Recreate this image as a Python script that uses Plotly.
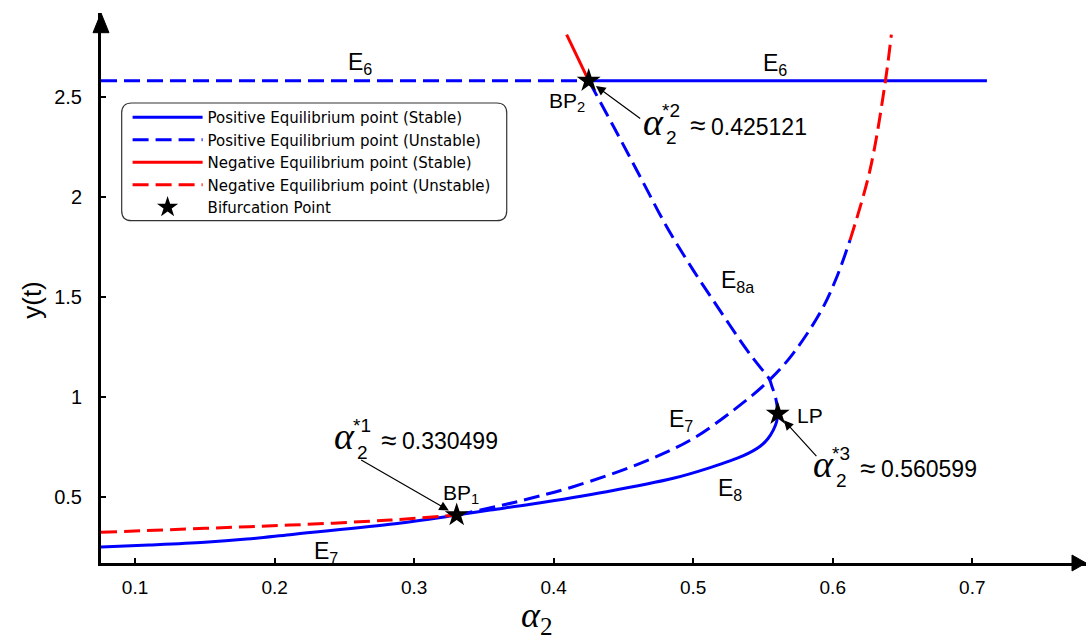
import plotly.graph_objects as go

# ---------------- data ----------------
e6_unstable_x = [0.0756, 0.4251]
e6_unstable_y = [2.58, 2.58]
e6_stable_x = [0.4251, 0.7105]
e6_stable_y = [2.58, 2.58]

neg_unstable_low_x = [0.0756, 0.15, 0.211, 0.2827, 0.3305]
neg_unstable_low_y = [0.322, 0.342, 0.358, 0.383, 0.408]

pos_stable_x = [0.0756, 0.11, 0.15, 0.18, 0.211, 0.2827, 0.3305, 0.3545, 0.3835, 0.438, 0.4857,
                0.511, 0.536, 0.548, 0.5535, 0.5574, 0.5598, 0.5606]
pos_stable_y = [0.248, 0.258, 0.272, 0.288, 0.31, 0.362, 0.408, 0.433, 0.462, 0.525, 0.592,
                0.643, 0.705, 0.752, 0.79, 0.833, 0.875, 0.915]

e7_unstable_x = [0.3305, 0.366, 0.3835, 0.414, 0.462, 0.498, 0.529, 0.5546, 0.5717, 0.592, 0.603, 0.6124]
e7_unstable_y = [0.408, 0.462, 0.492, 0.55, 0.667, 0.783, 0.933, 1.083, 1.217, 1.433, 1.60, 1.783]

neg_unstable_high_x = [0.6124, 0.6267, 0.6375, 0.642]
neg_unstable_high_y = [1.783, 2.133, 2.567, 2.81]

e8a_unstable_x = [0.5606, 0.5600, 0.5585, 0.5565, 0.5546, 0.5465, 0.5383, 0.519, 0.500, 0.481, 0.462, 0.443, 0.4251]
e8a_unstable_y = [0.915, 0.96, 1.01, 1.05, 1.087, 1.16, 1.235, 1.433, 1.633, 1.85, 2.1, 2.35, 2.58]

neg_stable_x = [0.4251, 0.4093]
neg_stable_y = [2.58, 2.81]

bif_x = [0.3305, 0.4251, 0.5606]
bif_y = [0.408, 2.58, 0.915]
bif_labels = ["0.330499", "0.425121", "0.560599"]
bif_sup = ["*1", "*2", "*3"]

x_ticks = [0.1, 0.2, 0.3, 0.4, 0.5, 0.6, 0.7]
y_ticks = [0.5, 1, 1.5, 2, 2.5]
y_ticktext = ["0.5", "1", "1.5", "2", "2.5"]

X_RANGE = [0.0756, 0.7815]
Y_RANGE = [0.1685, 2.9185]

BLUE = "#0000FF"
RED = "#FF0000"
DASH = "16px,7px"
FONT = "Liberation Sans, Arial, sans-serif"
SERIF = "Liberation Serif, DejaVu Serif, serif"

fig = go.Figure()


def seg(x, y, color, dash, name, group, show):
    fig.add_trace(go.Scatter(
        x=x, y=y, mode="lines", name=name, legendgroup=group, showlegend=show,
        line=dict(color=color, width=3, dash=dash, shape="spline", smoothing=1.0),
        hoverinfo="skip"))


# legend order: pos stable, pos unstable, neg stable, neg unstable, star
seg(pos_stable_x, pos_stable_y, BLUE, "solid", "Positive Equilibrium point (Stable)", "ps", True)
seg(e6_stable_x, e6_stable_y, BLUE, "solid", "Positive Equilibrium point (Stable)", "ps", False)
seg(e6_unstable_x, e6_unstable_y, BLUE, DASH, "Positive Equilibrium point (Unstable)", "pu", True)
seg(e7_unstable_x, e7_unstable_y, BLUE, DASH, "Positive Equilibrium point (Unstable)", "pu", False)
seg(e8a_unstable_x, e8a_unstable_y, BLUE, DASH, "Positive Equilibrium point (Unstable)", "pu", False)
seg(neg_stable_x, neg_stable_y, RED, "solid", "Negative Equilibrium point (Stable)", "ns", True)
seg(neg_unstable_low_x, neg_unstable_low_y, RED, DASH, "Negative Equilibrium point (Unstable)", "nu", True)
seg(neg_unstable_high_x, neg_unstable_high_y, RED, DASH, "Negative Equilibrium point (Unstable)", "nu", False)

fig.add_trace(go.Scatter(
    x=bif_x, y=bif_y, mode="markers", name="Bifurcation Point",
    marker=dict(symbol="star", size=18, color="black"), hoverinfo="skip"))

ann = []


def label(x, y, text, size=23):
    ann.append(dict(x=x, y=y, xref="x", yref="y", text=text, showarrow=False,
                    font=dict(family=FONT, size=size, color="black"),
                    xanchor="center", yanchor="middle"))


label(0.2612, 2.6685, "E<sub>6</sub>")
label(0.5586, 2.6635, "E<sub>6</sub>")
label(0.4095, 2.4735, "BP<sub>2</sub>", 21)
label(0.5321, 1.5785, "E<sub>8a</sub>")
label(0.4912, 0.8835, "E<sub>7</sub>")
label(0.5263, 0.5385, "E<sub>8</sub>")
label(0.5837, 0.9085, "LP", 21)
label(0.3336, 0.5135, "BP<sub>1</sub>", 21)
label(0.2368, 0.2235, "E<sub>7</sub>")

# alpha labels: anchor = centre of the alpha glyph (data coords)
alpha_pos = [(0.2504, 0.7835), (0.4719, 2.355), (0.5937, 0.6435)]
arrow_tail = [(-97, -56), (53, 39), (40, 44)]  # pixel offsets of tail from star (ax, ay; +ay = down)
for (ax_, ay_), sup, num, bx, by, (tx, ty) in zip(alpha_pos, bif_sup, bif_labels, bif_x, bif_y, arrow_tail):
    ann.append(dict(x=ax_, y=ay_, text="<i>α</i>", showarrow=False, xanchor="center", yanchor="middle",
                    yshift=4, font=dict(family=SERIF, size=38, color="black")))
    ann.append(dict(x=ax_, y=ay_, text=sup, showarrow=False, xanchor="center", yanchor="middle",
                    xshift=17, yshift=15, font=dict(family=FONT, size=19, color="black")))
    ann.append(dict(x=ax_, y=ay_, text="2", showarrow=False, xanchor="center", yanchor="middle",
                    xshift=18, yshift=-12, font=dict(family=FONT, size=19, color="black")))
    ann.append(dict(x=ax_, y=ay_, text="≈", showarrow=False, xanchor="center", yanchor="middle",
                    xshift=44, yshift=0, font=dict(family=FONT, size=28, color="black")))
    ann.append(dict(x=ax_, y=ay_, text=num, showarrow=False, xanchor="left", yanchor="middle",
                    xshift=55, yshift=-1, font=dict(family=FONT, size=23, color="black")))
    ann.append(dict(x=bx, y=by, ax=tx, ay=ty, text="", showarrow=True, arrowhead=2,
                    arrowsize=1.6, arrowwidth=1.2, arrowcolor="black", standoff=9))

# axis titles
ann.append(dict(x=-0.070, y=0.4787, xref="paper", yref="paper", text="y(t)", showarrow=False,
                textangle=-90, font=dict(family=FONT, size=26, color="black"),
                xanchor="center", yanchor="middle"))
ann.append(dict(x=0.4426, y=-0.0995, xref="paper", yref="paper", text="<i>α</i><sub>2</sub>",
                showarrow=False, font=dict(family=SERIF, size=36, color="black"),
                xanchor="center", yanchor="middle"))


# shapes: axis arrowheads and rounded legend box
def rounded_rect(x0, y0, x1, y1, rx, ry):
    return (f"M {x0+rx},{y1} L {x1-rx},{y1} Q {x1},{y1} {x1},{y1-ry} "
            f"L {x1},{y0+ry} Q {x1},{y0} {x1-rx},{y0} L {x0+rx},{y0} "
            f"Q {x0},{y0} {x0},{y0+ry} L {x0},{y1-ry} Q {x0},{y1} {x0+rx},{y1} Z")


shapes = [
    dict(type="path", xref="paper", yref="paper", path="M 1.0,0 L 0.9858,0.0145 L 0.9858,-0.0145 Z",
         fillcolor="black", line=dict(color="black", width=1)),
    dict(type="path", xref="paper", yref="paper", path="M 0,1.0 L 0.0081,0.9642 L -0.0081,0.9642 Z",
         fillcolor="black", line=dict(color="black", width=1)),
    dict(type="path", xref="paper", yref="paper",
         path=rounded_rect(0.021, 0.6224, 0.4119, 0.8364, 0.0102, 0.0182),
         line=dict(color="#333333", width=1.2)),
]

fig.update_layout(
    width=1086, height=639,
    margin=dict(l=101, r=0, t=13, b=76),
    paper_bgcolor="white", plot_bgcolor="white",
    showlegend=True,
    legend=dict(x=0.027, y=0.840, xanchor="left", yanchor="top",
                bgcolor="rgba(0,0,0,0)", borderwidth=0,
                font=dict(family="DejaVu Sans, sans-serif", size=15, color="black"),
                itemwidth=70, tracegroupgap=0),
    annotations=ann, shapes=shapes,
    xaxis=dict(range=X_RANGE, tickvals=x_ticks, showline=True, linewidth=3, linecolor="black",
               ticks="inside", ticklen=5, tickwidth=2, tickcolor="black", showgrid=False,
               zeroline=False, ticklabelstandoff=5,
               tickfont=dict(family=FONT, size=19, color="black")),
    yaxis=dict(range=Y_RANGE, tickvals=y_ticks, ticktext=y_ticktext, showline=True, linewidth=3,
               linecolor="black", ticks="inside", ticklen=5, tickwidth=2, tickcolor="black",
               showgrid=False, zeroline=False, ticklabelstandoff=12,
               tickfont=dict(family=FONT, size=20, color="black")),
)

fig.write_html("out.html", config={"displayModeBar": False},
               post_script="document.body.style.margin='0';document.body.style.overflow='hidden';")
